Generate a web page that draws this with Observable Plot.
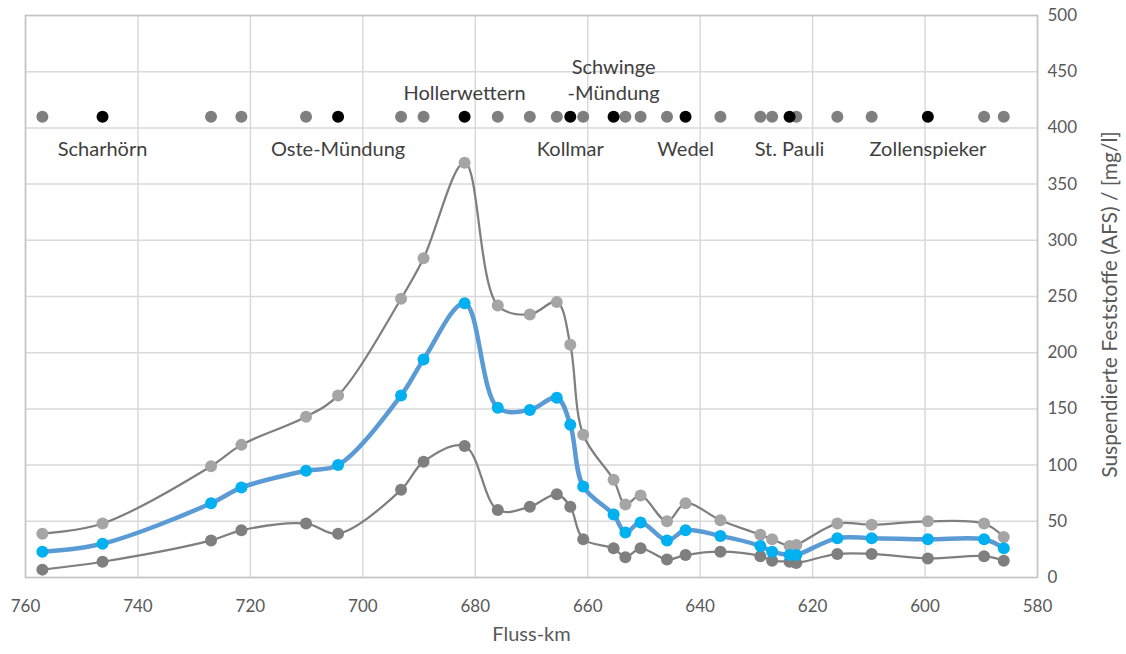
<!DOCTYPE html>
<html><head><meta charset="utf-8">
<script src="https://cdn.jsdelivr.net/npm/d3@7"></script>
<script src="https://cdn.jsdelivr.net/npm/@observablehq/plot@0.6"></script>
<style>body{margin:0;background:#fff} #chart svg{display:block}</style>
</head><body><div id="chart"></div>
<script>
// Fluss-km of the measuring points
const km = [757.0, 746.3, 727.0, 721.6, 710.1, 704.4, 693.2, 689.2, 681.9, 676.0, 670.3, 665.5, 663.1, 660.8, 655.4, 653.3, 650.6, 645.9, 642.6, 636.4, 629.3, 627.2, 624.1, 622.9, 615.6, 609.5, 599.5, 589.5, 586.0];
// Suspended solids (AFS) in mg/l
const afsMax  = [39, 48, 99, 118, 143, 162, 248, 284, 369, 242, 234, 245, 207, 127, 87, 65, 73, 50, 66, 51, 38, 34, 28, 29, 48, 47, 50, 48, 36];
const afsMean = [23, 30, 66, 80, 95, 100, 162, 194, 244, 151, 149, 160, 136, 81, 56, 40, 49, 33, 42, 37, 28, 23, 20, 20, 35, 35, 34, 34, 26];
const afsMin  = [7, 14, 33, 42, 48, 39, 78, 103, 117, 60, 63, 74, 63, 34, 26, 18, 26, 16, 20, 23, 19, 15, 14, 13, 21, 21, 17, 19, 15];
// Named stations
const stationNames = ["Scharhörn", "Oste-Mündung", "Hollerwettern", "Kollmar", "Schwinge\n-Mündung", "Wedel", "St. Pauli", "Zollenspieker"];
const stationKm = [746.3, 704.4, 681.9, 663.1, 655.4, 642.6, 624.1, 599.5];
const markerLevel = 410;
const xTicks = [760, 740, 720, 700, 680, 660, 640, 620, 600, 580];
const yTicks = [0, 50, 100, 150, 200, 250, 300, 350, 400, 450, 500];
const xTitle = "Fluss-km";
const yTitle = "Suspendierte Feststoffe (AFS) / [mg/l]";

const data = km.map((k, i) => ({km: k, max: afsMax[i], mean: afsMean[i], min: afsMin[i]}));
const namedSet = new Set(stationKm);
const markers = km.map(k => ({km: k, named: namedSet.has(k)}));
const stations = stationNames.map((n, i) => ({name: n, km: stationKm[i]}));
const aboveNames = new Set(["Hollerwettern", "Schwinge\n-Mündung"]);
const font = "Lato, 'Open Sans', sans-serif";

const plot = Plot.plot({
  width: 1126, height: 654,
  marginLeft: 25, marginRight: 89, marginTop: 15, marginBottom: 77,
  style: {fontFamily: font, fontSize: "16px", color: "#595959", background: "#fff", overflow: "visible"},
  x: {domain: [760, 580], ticks: xTicks, label: null},
  y: {domain: [0, 500], ticks: yTicks, label: null},
  marks: [
    Plot.gridX(xTicks, {stroke: "#d9d9d9", strokeOpacity: 1, strokeWidth: 1.5}),
    Plot.gridY(yTicks, {stroke: "#d9d9d9", strokeOpacity: 1, strokeWidth: 1.5}),
    Plot.frame({stroke: "#c4c4c4", strokeWidth: 1.5}),
    Plot.axisX(xTicks, {tickSize: 0, tickPadding: 22, fontSize: 17, fill: "#595959", label: null}),
    Plot.axisY(yTicks, {anchor: "right", tickSize: 0, tickPadding: 10, fontSize: 17, fill: "#595959", label: null}),
    Plot.text([xTitle], {frameAnchor: "bottom", dy: 63, fontSize: 20, fill: "#595959"}),
    Plot.text([yTitle], {frameAnchor: "right", dx: 73, dy: 8, rotate: -90, textAnchor: "middle", fontSize: 21, fill: "#595959"}),
    // station marker row
    Plot.dot(markers.filter(d => !d.named), {x: "km", y: () => markerLevel, r: 6, fill: "#7f7f7f"}),
    Plot.dot(markers.filter(d => d.named), {x: "km", y: () => markerLevel, r: 6, fill: "#000000"}),
    Plot.text(stations.filter(d => !aboveNames.has(d.name)), {x: "km", y: () => markerLevel, text: "name", dy: 33, fontSize: 20, fill: "#404040"}),
    Plot.text(stations.filter(d => aboveNames.has(d.name)), {x: "km", y: () => markerLevel, text: "name", dy: -17, lineAnchor: "bottom", lineHeight: 1.3, fontSize: 20, fill: "#404040"}),
    // series
    Plot.line(data, {x: "km", y: "max", curve: "catmull-rom", stroke: "#7f7f7f", strokeWidth: 2.25}),
    Plot.dot(data, {x: "km", y: "max", r: 6, fill: "#a5a5a5"}),
    Plot.line(data, {x: "km", y: "min", curve: "catmull-rom", stroke: "#7f7f7f", strokeWidth: 2.25}),
    Plot.dot(data, {x: "km", y: "min", r: 6, fill: "#7f7f7f"}),
    Plot.line(data, {x: "km", y: "mean", curve: "catmull-rom", stroke: "#5b9bd5", strokeWidth: 4.5}),
    Plot.dot(data, {x: "km", y: "mean", r: 6, fill: "#00b0f0"})
  ]
});
document.getElementById("chart").appendChild(plot);
</script>
</body></html>
